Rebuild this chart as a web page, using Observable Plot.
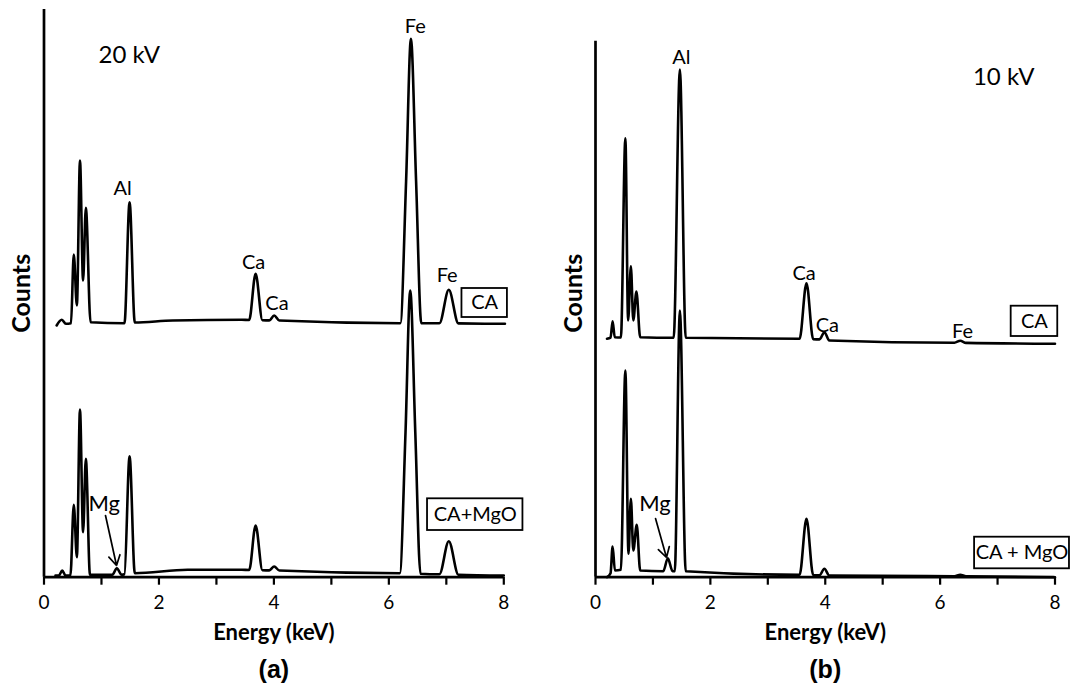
<!DOCTYPE html>
<html>
<head>
<meta charset="utf-8">
<script src="https://cdn.jsdelivr.net/npm/d3@7"></script>
<script src="https://cdn.jsdelivr.net/npm/@observablehq/plot@0.6"></script>
<style>
  html, body { margin: 0; padding: 0; background: #fff; }
  #wrap { position: relative; width: 1071px; height: 689px; overflow: hidden; }
  #wrap svg { position: absolute; top: 0; }
</style>
</head>
<body>
<div id="wrap"></div>
<script>
// ---- EDS spectra (energy in keV, counts in arbitrary units, traces offset vertically) ----
const energyTicks = [0, 1, 2, 3, 4, 5, 6, 7, 8];

// (a) 20 kV, CA
const spec20_CA = [
  [0.22, 251.7], [0.31, 257.4], [0.38, 253.4], [0.47, 254], [0.518, 322.7], [0.572, 271.7],
  [0.626, 416.7], [0.68, 296.7], [0.728, 369.4], [0.81, 255], [1.40, 254], [1.489, 375],
  [1.58, 254.7], [2.24, 256.7], [3.44, 257.4], [3.57, 257.2], [3.682, 303.4], [3.80, 257],
  [3.92, 256.8], [4.005, 261.7], [4.095, 256.7], [6.20, 254], [6.30, 396], [6.384, 538.4],
  [6.474, 396], [6.565, 254], [6.88, 254], [7.043, 287.4], [7.21, 253.8], [8.02, 253.4]
];
// (a) 20 kV, CA+MgO
const spec20_CAMgO = [
  [0.20, 1.7], [0.26, 1.7], [0.317, 6.7], [0.374, 1.7], [0.46, 2], [0.518, 72.4], [0.572, 20],
  [0.626, 167.7], [0.68, 45], [0.728, 118.4], [0.80, 2.4], [1.19, 2.5], [1.267, 9], [1.35, 2.5],
  [1.40, 3], [1.489, 121], [1.58, 4], [2.5, 7.4], [3.44, 7.4], [3.57, 7.2], [3.682, 51.7],
  [3.80, 7], [3.92, 6.8], [4.005, 10.7], [4.095, 6.7], [6.19, 4], [6.29, 145], [6.372, 286.7],
  [6.46, 145], [6.55, 3.5], [6.88, 3], [7.043, 36], [7.21, 2.5], [8.0, 1.7]
];
// (b) 10 kV, CA
const spec10_CA = [
  [0.20, 238.4], [0.262, 239.5], [0.298, 256], [0.335, 240], [0.442, 239.7], [0.52, 439], [0.568, 256.7],
  [0.616, 311], [0.658, 256.7], [0.712, 285.7], [0.778, 240], [1.361, 239.4], [1.469, 507.7],
  [1.571, 239.4], [3.553, 238.4], [3.673, 294], [3.79, 238], [3.90, 237.8], [3.985, 245],
  [4.07, 236.7], [6.25, 234.5], [6.35, 236.5], [6.45, 234.3], [8.0, 233.4]
];
// (b) 10 kV, CA+MgO
const spec10_CAMgO = [
  [0.20, 0], [0.262, 4], [0.298, 30.7], [0.338, 6.7], [0.442, 7.4], [0.52, 206.7], [0.574, 23.4],
  [0.616, 78.4], [0.658, 26.7], [0.718, 52.4], [0.778, 6.7], [1.18, 6], [1.259, 19],
  [1.342, 6], [1.38, 6], [1.469, 266.7], [1.571, 6], [3.553, 2.4], [3.673, 58.4], [3.79, 2.2],
  [3.90, 2], [3.985, 8.4], [4.07, 1.7], [6.25, 1], [6.35, 2.5], [6.45, 0.8], [8.0, 0]
];

// ---- text ----
const peakNames20 = ["Fe", "Al", "Ca", "Ca", "Fe"];
const peakNames10 = ["Al", "Ca", "Ca", "Fe"];
const voltage = ["20 kV", "10 kV"];
const sampleNames20 = ["CA", "CA+MgO"];
const sampleNames10 = ["CA", "CA + MgO"];
const panelTags = ["(a)", "(b)"];
const xTitle = "Energy (keV)";
const yTitle = "Counts";
const arrowLabel = "Mg";

// ---- layout (keV / counts) ----
const font = "Lato, 'Open Sans', sans-serif";
const H = 689, axisY = 576.7, topY = 9;
const yMax = axisY - topY;

const panels = [
  {
    left: 0, width: 535, mL: 43.5, mR: 31.7, axisTop: yMax,
    traces: [spec20_CA, spec20_CAMgO],
    peaks: peakNames20, peakPos: [[6.46, 550.7], [1.369, 388.7], [3.647, 315], [4.054, 274], [7.014, 301.7]],
    kv: voltage[0], kvPos: [1.484, 521.7],
    samples: sampleNames20,
    boxes: [[7.272, 8.063, 259.7, 288.7], [6.673, 8.333, 46.7, 78.4]],
    arrow: [1.07, 61.7, 1.262, 11.7], mgPos: [1.049, 73.4],
    tag: panelTags[0]
  },
  {
    left: 535, width: 536, mL: 60, mR: 16.5, axisTop: axisY - 40.7,
    traces: [spec10_CA, spec10_CAMgO],
    peaks: peakNames10, peakPos: [[1.494, 519.4], [3.632, 304], [4.036, 251.7], [6.389, 245.7]],
    kv: voltage[1], kvPos: [7.108, 500],
    samples: sampleNames10,
    boxes: [[7.237, 8.048, 240.7, 271], [6.600, 8.252, 8.4, 40]],
    arrow: [1.045, 58.7, 1.236, 19.7], mgPos: [1.034, 73.7],
    tag: panelTags[1]
  }
];

const wrap = document.getElementById("wrap");

for (const p of panels) {
  const toRows = (arr) => arr.map(([e, c]) => ({e, c}));
  const boxRows = p.boxes.map(([x1, x2, y1, y2], i) => ({x1, x2, y1, y2, name: p.samples[i]}));
  const peakRows = p.peaks.map((t, i) => ({t, e: p.peakPos[i][0], c: p.peakPos[i][1]}));

  const chart = Plot.plot({
    width: p.width,
    height: H,
    marginLeft: p.mL,
    marginRight: p.mR,
    marginTop: topY,
    marginBottom: H - axisY,
    style: {fontFamily: font, background: "transparent", overflow: "visible"},
    x: {domain: [0, 8]},
    y: {domain: [0, yMax], axis: null},
    marks: [
      // axes
      Plot.ruleX([0], {y1: 0, y2: p.axisTop, stroke: "#000", strokeWidth: 2.7}),
      Plot.ruleY([0], {stroke: "#000", strokeWidth: 2.7}),
      Plot.axisX({
        ticks: energyTicks, tickSize: 8, tickPadding: 10, strokeWidth: 2.2,
        tickFormat: d => d % 2 ? "" : String(d), fontSize: 19, label: null, color: "#000"
      }),
      // spectra
      ...p.traces.map(t => Plot.line(toRows(t), {
        x: "e", y: "c", curve: "monotone-x", stroke: "#000", strokeWidth: 2.6, strokeLinejoin: "round"
      })),
      // peak labels
      Plot.text(peakRows, {x: "e", y: "c", text: "t", fontSize: 20, fill: "#000"}),
      Plot.text([p.kv], {x: () => p.kvPos[0], y: () => p.kvPos[1], text: d => d, fontSize: 24, fill: "#000"}),
      // sample boxes
      Plot.rect(boxRows, {x1: "x1", x2: "x2", y1: "y1", y2: "y2", fill: "#fff", stroke: "#000", strokeWidth: 1.8}),
      Plot.text(boxRows, {x: d => (d.x1 + d.x2) / 2, y: d => (d.y1 + d.y2) / 2, text: "name", fontSize: 20, fill: "#000"}),
      // Mg arrow
      Plot.arrow([p.arrow], {
        x1: d => d[0], y1: d => d[1], x2: d => d[2], y2: d => d[3],
        stroke: "#000", strokeWidth: 1.7, headLength: 10
      }),
      Plot.text([arrowLabel], {x: () => p.mgPos[0], y: () => p.mgPos[1], text: d => d, fontSize: 22, fill: "#000"}),
      // titles
      Plot.text([yTitle], {frameAnchor: "left", rotate: -90, dx: -22, textAnchor: "middle", lineAnchor: "middle",
        text: d => d, fontSize: 25, fontWeight: "bold", fill: "#000"}),
      Plot.text([xTitle], {frameAnchor: "bottom", dy: 56, lineAnchor: "middle", text: d => d,
        fontSize: 22, fontWeight: "bold", fill: "#000"}),
      Plot.text([p.tag], {frameAnchor: "bottom", dy: 93, lineAnchor: "middle", text: d => d, fontSize: 25, fontWeight: "bold",
        fontFamily: "'Liberation Sans', Arial, sans-serif", fill: "#000"})
    ]
  });
  chart.style.left = p.left + "px";
  wrap.appendChild(chart);
}
</script>
</body>
</html>
